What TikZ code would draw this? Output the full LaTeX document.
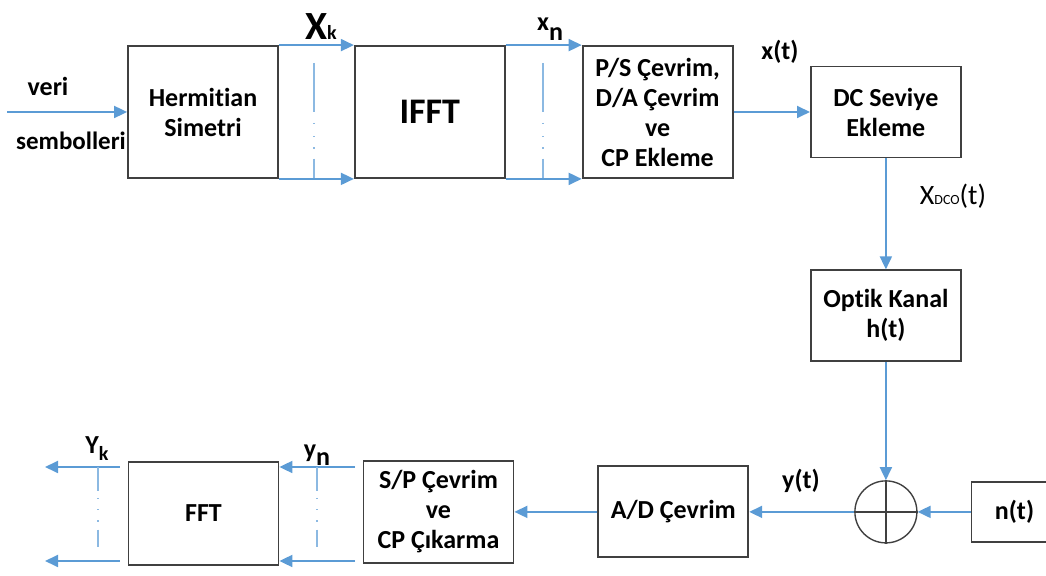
\documentclass[tikz,border=0pt]{standalone}
\usepackage{fontspec}
\setmainfont{Carlito}[Ligatures=NoCommon]
\usetikzlibrary{arrows.meta, positioning}
\definecolor{sigblue}{HTML}{5B9BD5}
\definecolor{boxgray}{HTML}{404040}

\begin{document}
\begin{tikzpicture}[
    x=0.5pt, y=-0.5pt,
    node distance=38pt,
    every node/.style={font=\fontsize{13}{15}\selectfont\bfseries},
    block/.style={
        rectangle,
        draw=boxgray,
        line width=0.9pt,
        minimum width=75pt,
        minimum height=45.5pt,
        align=center,
        inner sep=2pt
    },
    tallblock/.style={block, minimum height=66pt},
    arrow/.style={-{Triangle[length=6.5pt, width=6pt]}, draw=sigblue, fill=sigblue, line width=0.9pt},
    dotline/.style={draw=sigblue!70, line width=0.7pt}
]
\useasboundingbox (0,0) rectangle (1046,576);
\clip (0,0) rectangle (1046,576);

\node[tallblock] (herm) at (203,112) {Hermitian\\Simetri};
\node[tallblock, right=37.5pt of herm, font=\fontsize{18}{20}\selectfont\bfseries] (ifft) {IFFT};
\node[tallblock, right=of ifft] (ps) {P/S Çevrim,\\D/A Çevrim\\ve\\CP Ekleme};
\node[block, right=38.25pt of ps] (dc) {DC Seviye\\Ekleme};
\node[block, below=55.5pt of dc] (optik) {Optik Kanal\\h(t)};
\node[circle, draw=boxgray, line width=0.7pt, minimum size=31pt, inner sep=0pt, below=59pt of optik] (sum) {};
\node[block, minimum width=43pt, minimum height=30pt, right=26.5pt of sum] (noise) {n(t)};
\node[block, left=52.5pt of sum] (ad) {A/D Çevrim};
\node[block, minimum height=51pt, left=41.5pt of ad] (sp) {S/P Çevrim\\ve\\CP Çıkarma};
\node[block, minimum height=51.5pt] (fft) at (203.5,513.5) {FFT};

\draw[boxgray, line width=0.7pt] (sum.north) -- (sum.south) (sum.west) -- (sum.east);

\coordinate (src) at (7,112);
\coordinate (inA) at (355,467);
\coordinate (inB) at (355,561);
\coordinate (outA) at (45,467);
\coordinate (outB) at (45,561);

\draw[arrow] (src) -- (herm.west);
\draw[arrow] (herm.north east) -- (ifft.north west);
\draw[arrow] (herm.south east) -- (ifft.south west);
\draw[arrow] (ifft.north east) -- (ps.north west);
\draw[arrow] (ifft.south east) -- (ps.south west);
\draw[arrow] (ps.east) -- (dc.west);
\draw[arrow] (dc.south) -- (optik.north);
\draw[arrow] (optik.south) -- (sum.north);
\draw[arrow] (noise.west) -- (sum.east);
\draw[arrow] (sum.west) -- (ad.east);
\draw[arrow] (ad.west) -- (sp.east);
\draw[arrow] (inA) -- (inA -| fft.east);
\draw[arrow] (inB) -- (inB -| fft.east);
\draw[arrow, shorten <=4pt] (fft.west |- outA) -- (outA);
\draw[arrow, shorten <=4pt] (fft.west |- outB) -- (outB);

\draw[dotline, dash pattern=on 24.5pt off 5.5pt on 0.6pt off 6pt on 0.6pt off 5pt on 0.6pt off 5pt on 10pt] (314,63) -- (314,178);
\draw[dotline, dash pattern=on 24.5pt off 5.5pt on 0.6pt off 6pt on 0.6pt off 5pt on 0.6pt off 5pt on 10pt] (543,63) -- (543,178);
\draw[dotline, dash pattern=on 12pt off 3.5pt on 0.6pt off 5pt on 0.6pt off 5pt on 0.6pt off 4pt on 9.5pt] (98,467) -- (98,547);
\draw[dotline, dash pattern=on 12pt off 3.5pt on 0.6pt off 5pt on 0.6pt off 5pt on 0.6pt off 4pt on 9.5pt] (317,467) -- (317,547);

\node (veri) at (48,86) {veri};
\node[font=\fontsize{12.5}{15}\selectfont\bfseries] (semb) at (71,141) {sembolleri};
\node (lblXk) at (321,27) {\fontsize{20}{20}\selectfont X\fontsize{10}{10}\selectfont k};
\node (lblxn) at (550,29) {x\raisebox{-5pt}{n}};
\node (lblxt) at (780,52) {x(t)};
\node[font=\fontsize{14}{16}\selectfont] (lblxdco) at (953,196) {X{\fontsize{7}{7}\selectfont DCO}(t)};
\node (lblyt) at (801,481) {y(t)};
\node (lblyn) at (317,455) {y\raisebox{-4pt}{n}};
\node (lblYk) at (97,449) {Y\raisebox{-3.5pt}{\fontsize{10}{10}\selectfont k}};

\end{tikzpicture}
\end{document}
